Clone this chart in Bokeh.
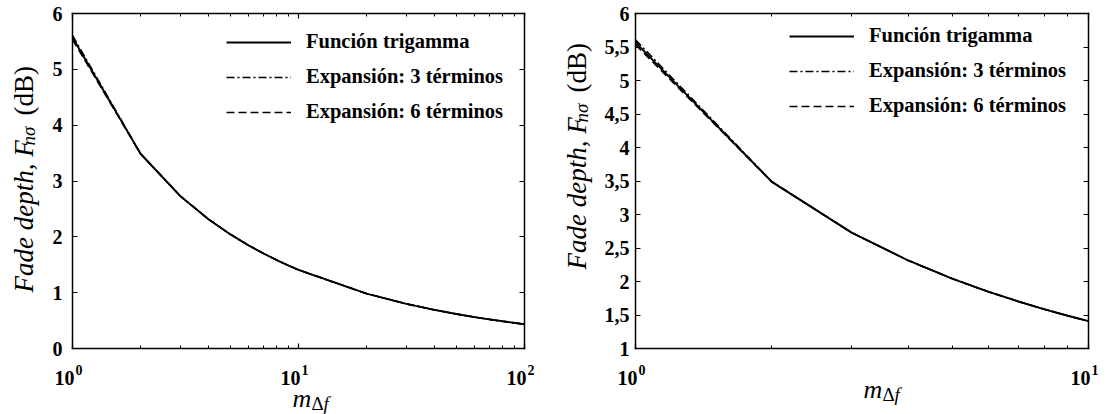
import math
from bokeh.plotting import figure
from bokeh.models import (Range1d, FixedTicker, LinearAxis, LogAxis,
                          CustomJSTickFormatter, Legend, LegendItem, Label)
from bokeh.layouts import row
from bokeh.embed import file_html
from bokeh.resources import INLINE

# ---------------- data ----------------
m_delta_f = [1, 2, 3, 4, 5, 6, 7, 8, 9, 10, 20, 30, 40, 50, 60, 70, 80, 90, 100]
fade_trigamma = [5.5701, 3.4877, 2.7293, 2.3137, 2.0431, 1.8493, 1.7018, 1.5847,
                 1.4887, 1.4084, 0.9834, 0.7996, 0.6910, 0.6173, 0.5630, 0.5209,
                 0.4871, 0.4591, 0.4354]
fade_exp3 = [5.6067, 3.4901, 2.7297, 2.3138, 2.0431, 1.8493, 1.7018, 1.5847,
             1.4887, 1.4084, 0.9834, 0.7996, 0.6910, 0.6173, 0.5630, 0.5209,
             0.4871, 0.4591, 0.4354]
fade_exp6 = [5.5341, 3.4876, 2.7293, 2.3137, 2.0431, 1.8493, 1.7018, 1.5847,
             1.4887, 1.4084, 0.9834, 0.7996, 0.6910, 0.6173, 0.5630, 0.5209,
             0.4871, 0.4591, 0.4354]
legend_labels = ["Función trigamma", "Expansión: 3 términos", "Expansión: 6 términos"]

left_x_major = [1, 10, 100]
left_x_minor = [2, 3, 4, 5, 6, 7, 8, 9, 20, 30, 40, 50, 60, 70, 80, 90]
right_x_major = [1, 10]
right_x_minor = [2, 3, 4, 5, 6, 7, 8, 9]
left_y_ticks = [0, 1, 2, 3, 4, 5, 6]
right_y_ticks = [1, 1.5, 2, 2.5, 3, 3.5, 4, 4.5, 5, 5.5, 6]

ylabel_main = "Fade depth, F"
ylabel_sub = "nσ"
ylabel_unit = "(dB)"
xlabel_main = "m"
xlabel_sub = ["Δ", "f"]

TICK_FONT = "Liberation Serif"
LABEL_FONT = "Liberation Serif"
H = 414

y_fmt_code = "return tick.toString().replace('.', ',');"


def style_axis(ax, show_labels, standoff, minor=True):
    ax.axis_line_color = "black"
    ax.axis_line_width = 1.5
    ax.axis_line_cap = "square"
    ax.major_tick_in = 5
    ax.major_tick_out = 0
    ax.minor_tick_in = 3
    ax.minor_tick_out = 0
    ax.major_tick_line_color = "black"
    ax.major_tick_line_width = 1.2
    ax.minor_tick_line_color = "black" if minor else None
    ax.minor_tick_line_width = 1
    ax.major_label_standoff = standoff
    if show_labels:
        ax.major_label_text_font = TICK_FONT
        ax.major_label_text_font_style = "bold"
        ax.major_label_text_font_size = "20px"
        ax.major_label_text_color = "black"
    else:
        ax.major_label_text_font_size = "0px"
        ax.major_label_text_color = None


def lab(text, x, y, size, style, angle=0.0, align="left", x_units="screen", x_offset=0):
    return Label(x=x, y=y, x_units=x_units, y_units="screen", text=text,
                 angle=angle, x_offset=x_offset, text_font=LABEL_FONT,
                 text_font_style=style, text_font_size=size, text_align=align,
                 text_baseline="alphabetic", text_color="black")


def make_panel(width, box, xmax, ymin, n_pts, x_major, x_minor, y_ticks,
               ylab_x, ylab_start, xlab_x, xlab_base, legend_xy, ytick_standoff):
    bl, br, bt, bb = box              # plot box in pixels inside the figure
    ymax = 6
    dec = math.log10(xmax)
    ppd = (br - bl) / dec
    x_start = 10 ** (-bl / ppd)
    x_end = 10 ** (dec + (width - br) / ppd)
    ppu = (bb - bt) / (ymax - ymin)
    y_start = ymin - (H - bb) / ppu
    y_end = ymax + bt / ppu

    p = figure(width=width, height=H, x_axis_type="log",
               x_range=Range1d(x_start, x_end), y_range=Range1d(y_start, y_end),
               output_backend="svg", toolbar_location=None, min_border=0,
               background_fill_color="white", border_fill_color="white")
    p.xgrid.grid_line_color = None
    p.ygrid.grid_line_color = None
    p.outline_line_color = None

    xb = p.xaxis[0]
    xb.ticker = FixedTicker(ticks=x_major, minor_ticks=x_minor)
    xb.fixed_location = ymin
    xb.bounds = (1, xmax)
    style_axis(xb, False, 0)
    yl = p.yaxis[0]
    yl.ticker = FixedTicker(ticks=y_ticks)
    yl.formatter = CustomJSTickFormatter(code=y_fmt_code)
    yl.fixed_location = 1
    yl.bounds = (ymin, ymax)
    style_axis(yl, True, ytick_standoff, minor=False)

    xt = LogAxis(ticker=FixedTicker(ticks=x_major, minor_ticks=x_minor),
                 fixed_location=ymax, bounds=(1, xmax))
    style_axis(xt, False, 0)
    p.add_layout(xt, "above")
    yr = LinearAxis(ticker=FixedTicker(ticks=y_ticks), fixed_location=xmax,
                    bounds=(ymin, ymax))
    style_axis(yr, False, 0, minor=False)
    p.add_layout(yr, "right")

    xs = m_delta_f[:n_pts]
    r1 = p.line(xs, fade_trigamma[:n_pts], line_color="black", line_width=1.9)
    r2 = p.line(xs, fade_exp3[:n_pts], line_color="black", line_width=1.6,
                line_dash="8 3 2 3")
    r3 = p.line(xs, fade_exp6[:n_pts], line_color="black", line_width=1.6,
                line_dash="8 4")

    legend = Legend(items=[LegendItem(label=legend_labels[0], renderers=[r1]),
                           LegendItem(label=legend_labels[1], renderers=[r2]),
                           LegendItem(label=legend_labels[2], renderers=[r3])],
                    location=legend_xy, glyph_width=65, glyph_height=20,
                    label_height=20, spacing=12, padding=0, margin=0,
                    label_standoff=15, border_line_color=None,
                    background_fill_alpha=0, label_text_font=LABEL_FONT,
                    label_text_font_style="bold", label_text_font_size="20.5px",
                    label_text_color="black")
    p.add_layout(legend)

    # x tick labels: 10 with a raised exponent
    tick_base = H - 377
    for t in x_major:
        p.add_layout(lab("10", t, tick_base, "20px", "bold", align="right",
                         x_units="data", x_offset=2))
        p.add_layout(lab(str(int(round(math.log10(t)))), t, tick_base + 8, "14px",
                         "bold", align="left", x_units="data", x_offset=3))

    # y axis title (rotated, built from pieces)
    rot = math.pi / 2
    p.add_layout(lab(ylabel_main, ylab_x, ylab_start, "27px", "italic", rot))
    p.add_layout(lab(ylabel_sub, ylab_x + 5, ylab_start + 147, "19px", "italic", rot))
    p.add_layout(lab(ylabel_unit, ylab_x, ylab_start + 177, "27px", "normal", rot))
    # x axis title
    p.add_layout(lab(xlabel_main, xlab_x, H - xlab_base, "26px", "italic"))
    p.add_layout(lab(xlabel_sub[0], xlab_x + 19, H - xlab_base - 5, "19px", "normal"))
    p.add_layout(lab(xlabel_sub[1], xlab_x + 31, H - xlab_base - 5, "19px", "italic"))
    return p


p_left = make_panel(559, (72, 524, 13, 348), 100, 0, len(m_delta_f),
                    left_x_major, left_x_minor, left_y_ticks,
                    ylab_x=23, ylab_start=122, xlab_x=292, xlab_base=398,
                    legend_xy=(226, 291), ytick_standoff=10)
p_right = make_panel(548, (76, 529, 13, 348), 10, 1, 10,
                     right_x_major, right_x_minor, right_y_ticks,
                     ylab_x=17, ylab_start=145, xlab_x=304, xlab_base=389,
                     legend_xy=(230, 297), ytick_standoff=6)

layout = row(p_left, p_right)
open("out.html", "w").write(file_html(layout, INLINE))
